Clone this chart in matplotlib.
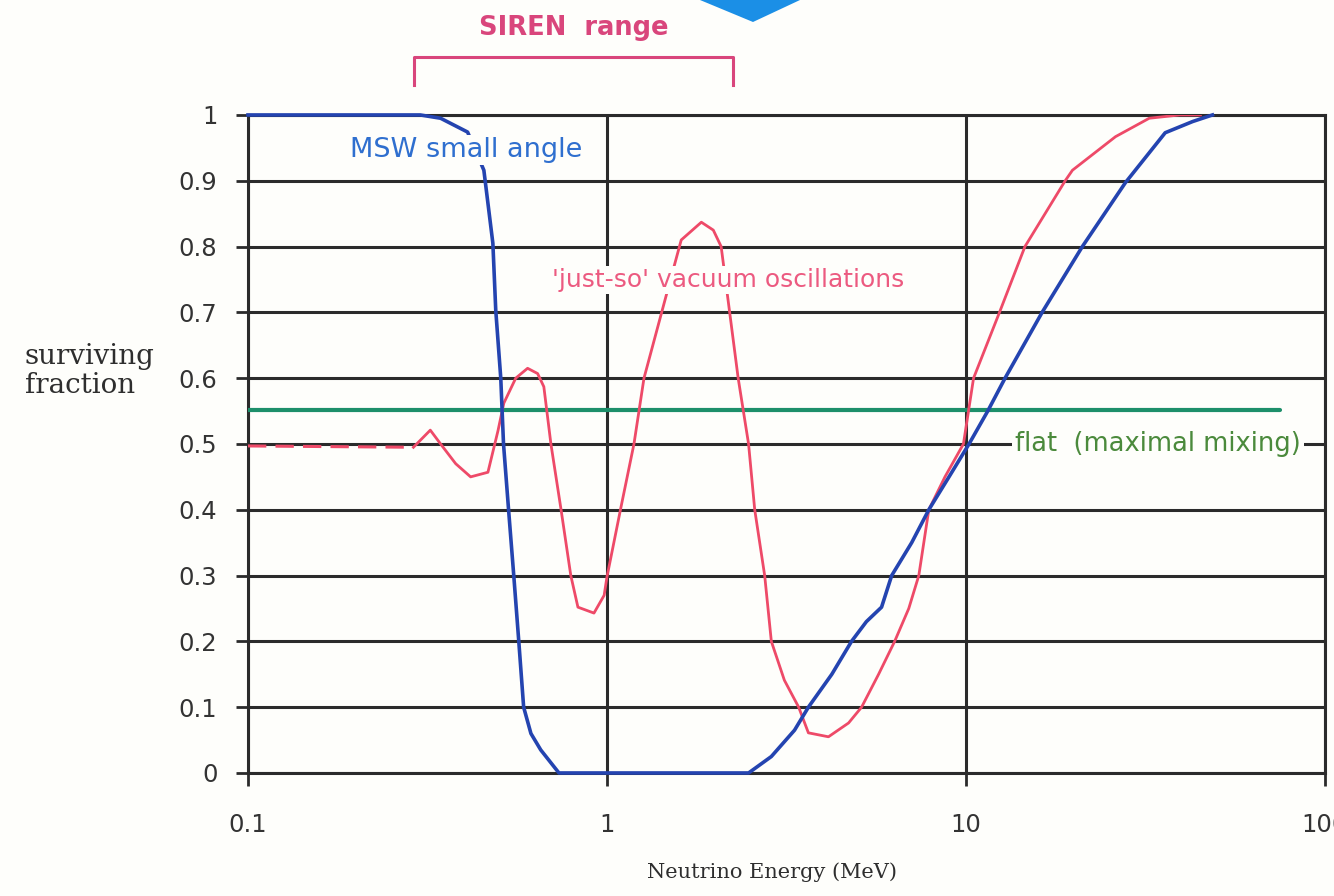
#!/usr/bin/env python3
"""Solar neutrino surviving fraction vs energy (SIREN range sketch)."""

import matplotlib
matplotlib.use("Agg")
import matplotlib.pyplot as plt
from matplotlib.patches import Polygon

# MSW small angle solution (blue)
msw_e = [0.1, 0.302, 0.344, 0.409, 0.454, 0.481, 0.490, 0.506, 0.515, 0.532,
         0.550, 0.568, 0.586, 0.614, 0.654, 0.735, 2.48, 2.87, 3.33, 3.64,
         4.23, 4.80, 5.28, 5.82, 6.21, 7.06, 7.88, 8.97, 10.2, 11.5,
         12.85, 16.3, 21.1, 27.8, 35.9, 42.8, 48.6]
msw_p = [1.0, 1.0, 0.995, 0.974, 0.916, 0.805, 0.703, 0.60, 0.50, 0.40,
         0.30, 0.20, 0.10, 0.06, 0.035, 0.0, 0.0, 0.025, 0.065, 0.10,
         0.15, 0.20, 0.23, 0.252, 0.30, 0.35, 0.40, 0.45, 0.50, 0.55,
         0.60, 0.70, 0.80, 0.897, 0.973, 0.99, 1.0]

# 'just-so' vacuum oscillations (red)
js_e = [0.1, 0.289, 0.322, 0.344, 0.379, 0.417, 0.466, 0.497, 0.516, 0.557,
        0.601, 0.641, 0.667, 0.698, 0.745, 0.793, 0.830, 0.920, 0.982, 1.0,
        1.094, 1.189, 1.268, 1.443, 1.610, 1.832, 1.978, 2.08, 2.18, 2.32,
        2.48, 2.58, 2.75, 2.87, 3.12, 3.42, 3.64, 4.14, 4.71, 5.12,
        5.71, 6.33, 6.93, 7.39, 7.88, 8.74, 9.84, 10.5, 12.4, 14.6,
        18.9, 19.8, 26.1, 32.4, 39.4, 45.0]
js_p = [0.497, 0.495, 0.521, 0.50, 0.47, 0.45, 0.457, 0.52, 0.562, 0.60,
        0.615, 0.607, 0.587, 0.50, 0.40, 0.30, 0.252, 0.243, 0.27, 0.298,
        0.404, 0.50, 0.60, 0.714, 0.81, 0.837, 0.825, 0.80, 0.714, 0.60,
        0.50, 0.40, 0.30, 0.20, 0.141, 0.10, 0.061, 0.055, 0.076, 0.10,
        0.15, 0.20, 0.25, 0.30, 0.40, 0.45, 0.50, 0.60, 0.70, 0.80,
        0.90, 0.916, 0.967, 0.995, 1.0, 1.0]
js_flat_n = 2  # first points drawn dashed over the 0.5 grid line

# flat (maximal mixing)
flat_e = [0.1, 75.0]
flat_p = [0.552, 0.552]

# SIREN energy range (MeV)
siren_lo, siren_hi = 0.29, 2.25

xticks = [0.1, 1, 10, 100]
xtick_labels = ["0.1", "1", "10", "100"]
yticks = [0, 0.1, 0.2, 0.3, 0.4, 0.5, 0.6, 0.7, 0.8, 0.9, 1]
ytick_labels = ["0", "0.1", "0.2", "0.3", "0.4", "0.5", "0.6", "0.7", "0.8", "0.9", "1"]

BLUE = "#2444b0"
RED = "#ee4a68"
GREEN = "#1d8f6a"
PINK = "#d9467c"
GRID = "#2b2b2b"
BG = "#fefefb"

fig = plt.figure(figsize=(13.34, 8.96), dpi=100, facecolor=BG)
ax = fig.add_axes([0.1859, 0.1373, 0.8073, 0.7344])
ax.set_facecolor(BG)

ax.set_xscale("log")
ax.set_xlim(0.1, 100)
ax.set_ylim(0, 1)
ax.set_xticks(xticks)
ax.set_xticklabels(xtick_labels)
ax.set_yticks(yticks)
ax.set_yticklabels(ytick_labels)
ax.minorticks_off()
ax.tick_params(axis="both", direction="out", length=9, width=2, color=GRID,
               labelsize=17.5, labelcolor="#333333")
ax.tick_params(axis="x", pad=20)
ax.tick_params(axis="y", pad=13)
ax.grid(True, color=GRID, lw=2.2, zorder=0)
ax.set_axisbelow(True)
for sp in ax.spines.values():
    sp.set_color(GRID)
    sp.set_linewidth(2.2)

# curves
ax.plot(flat_e, flat_p, color=GREEN, lw=3, zorder=3, solid_capstyle="round")
ax.plot(js_e[:js_flat_n], js_p[:js_flat_n], color=RED, lw=2.2, ls=(0, (6, 3)), zorder=4)
ax.plot(js_e[js_flat_n - 1:], js_p[js_flat_n - 1:], color=RED, lw=2.0, zorder=4)
ax.plot(msw_e, msw_p, color=BLUE, lw=2.6, zorder=5, clip_on=False)

# labels on the plot
box = dict(facecolor=BG, edgecolor="none", pad=1.5)
ax.text(0.406, 0.947, "MSW small angle", color="#2f6fcf", fontsize=19.5,
        ha="center", va="center", bbox=box, zorder=6)
ax.text(2.18, 0.749, "'just-so' vacuum oscillations", color="#ec5a80",
        fontsize=18, ha="center", va="center", bbox=box, zorder=6)
ax.text(13.7, 0.50, "flat  (maximal mixing)", color="#4b8a3c", fontsize=18.5,
        ha="left", va="center", bbox=dict(facecolor=BG, edgecolor="none", pad=2),
        zorder=6)

# SIREN range bracket above the axes
ax.plot([siren_lo, siren_lo, siren_hi, siren_hi], [1.046, 1.088, 1.088, 1.046],
        color=PINK, lw=2.2, clip_on=False)
ax.text((siren_lo * siren_hi) ** 0.5, 1.132, "SIREN  range", color=PINK,
        fontsize=18.5, fontweight="bold", ha="center", va="center", clip_on=False)

# axis titles
fig.text(25 / 1334, 1 - 371 / 896, "surviving\nfraction", family="DejaVu Serif",
         fontsize=20, color="#2e2e2e", ha="left", va="center", linespacing=1.1)
fig.text(772 / 1334, 1 - 872 / 896, "Neutrino Energy (MeV)", family="DejaVu Serif",
         fontsize=15, color="#2e2e2e", ha="center", va="center")

# blue arrow tip at the top edge
fig.patches.append(Polygon([(700 / 1334, 1.0), (800 / 1334, 1.0), (753 / 1334, 1 - 22 / 896)],
                           closed=True, transform=fig.transFigure, facecolor="#1b8fe6",
                           edgecolor="none", figure=fig))

fig.savefig("out.png", dpi=100, facecolor=fig.get_facecolor())
